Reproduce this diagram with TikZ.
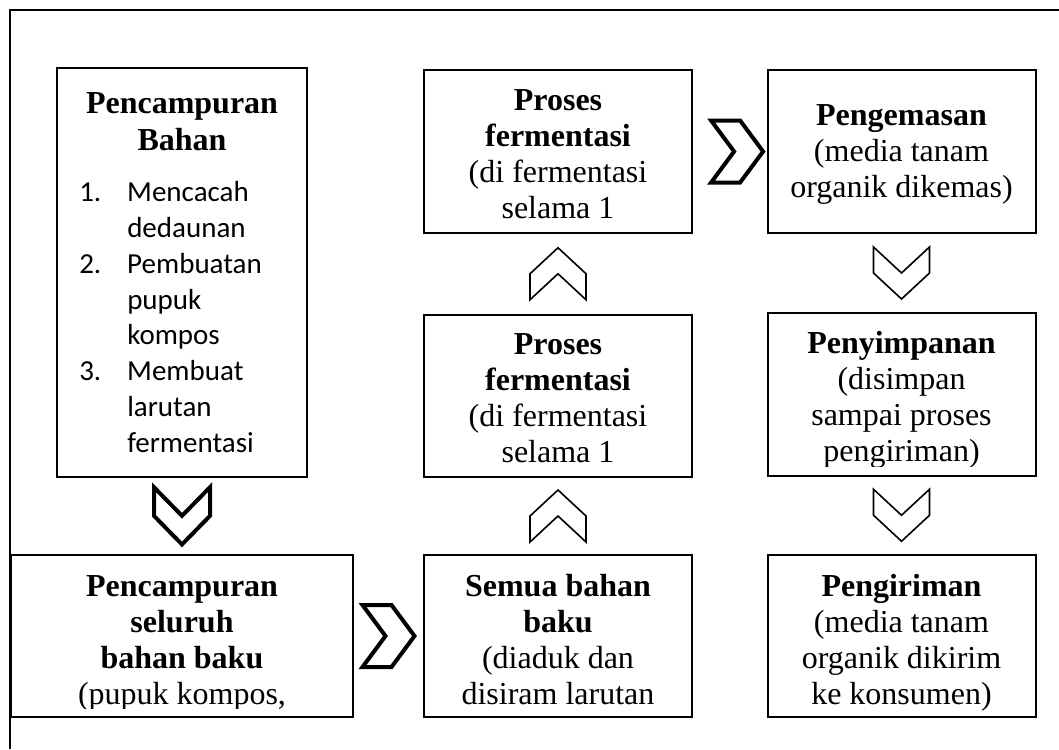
\documentclass[tikz,border=0pt]{standalone}
\usepackage{fontspec}
\setmainfont{Liberation Serif}
\newfontfamily\listfont{Carlito}
\usetikzlibrary{calc}
\tikzset{
    pics/chevdown/.style={code={\draw[pic actions] (-28,-26) -- (0,0) -- (28,-26) -- (28,0) -- (0,26) -- (-28,0) -- cycle;}},
    pics/chevup/.style={code={\draw[pic actions] (-28,26) -- (0,0) -- (28,26) -- (28,0) -- (0,-26) -- (-28,0) -- cycle;}},
    pics/chevright/.style={code={\draw[pic actions] (-26,-31) -- (3,-31) -- (26,0) -- (3,31) -- (-26,31) -- (-3,0) -- cycle;}},
}

\begin{document}
\begin{tikzpicture}[x=0.75pt, y=-0.75pt,
    box/.style={draw, line width=1.5pt, minimum width=201pt, minimum height=122pt, inner sep=0pt},
    txt/.style={anchor=base, align=center, inner sep=0pt, font=\fontsize{24}{27}\selectfont},
    chevthick/.style={draw, fill=white, line width=3pt},
    chevthin/.style={draw, fill=white, line width=1.2pt}]
    \useasboundingbox (0,0) rectangle (1059,749);
    \draw[line width=1.8pt] (10,749) -- (10,10) -- (1059,10);

    \node[box, minimum width=187.5pt, minimum height=306.75pt] (mix) at (182,272.5) {};
    \node[box, minimum width=256.5pt] (all) at (182,636) {};
    \node[box] (stir) at (558,636) {};
    \node[box] (ferm1) at (558,396) {};
    \node[box] (ferm2) at (558,151.5) {};
    \node[box] (pack) at (901.5,151.5) {};
    \node[box] (store) at (901.5,394.5) {};
    \node[box] (ship) at (901.5,636) {};

    \node[txt, font=\fontsize{24}{27.75}\selectfont] (mix-title) at (182,150) {\textbf{Pencampuran}\\\textbf{Bahan}};
    \node[anchor=base west, align=left, inner sep=0pt, font=\listfont\fontsize{21.75}{26.8}\selectfont] (mix-list) at (79,452)
        {\makebox[36pt][l]{1.}Mencacah\\\hspace*{36pt}dedaunan\\\makebox[36pt][l]{2.}Pembuatan\\\hspace*{36pt}pupuk\\\hspace*{36pt}kompos\\\makebox[36pt][l]{3.}Membuat\\\hspace*{36pt}larutan\\\hspace*{36pt}fermentasi};
    \begin{scope}
        \clip (all.north west) rectangle ([yshift=7.5pt]all.south east);
        \node[txt] (all-text) at (182,704) {\textbf{Pencampuran}\\\textbf{seluruh}\\\textbf{bahan baku}\\(pupuk kompos,};
    \end{scope}
    \node[txt] (stir-text) at (558,704) {\textbf{Semua bahan}\\\textbf{baku}\\(diaduk dan\\disiram larutan};
    \node[txt] (ferm1-text) at (558,462) {\textbf{Proses}\\\textbf{fermentasi}\\(di fermentasi\\selama 1};
    \node[txt] (ferm2-text) at (558,218) {\textbf{Proses}\\\textbf{fermentasi}\\(di fermentasi\\selama 1};
    \node[txt] (pack-text) at (901.5,197) {\textbf{Pengemasan}\\(media tanam\\organik dikemas)};
    \begin{scope}
        \clip (store.north west) rectangle ([yshift=8pt]store.south east);
        \node[txt] (store-text) at (901.5,461) {\textbf{Penyimpanan}\\(disimpan\\sampai proses\\pengiriman)};
    \end{scope}
    \node[txt] (ship-text) at (901.5,704) {\textbf{Pengiriman}\\(media tanam\\organik dikirim\\ke konsumen)};

    \pic[chevthick, yscale=1.1] at ($(mix.south)!0.5!(all.north)$) {chevdown};
    \pic[chevthick] at ($(all.east)!0.5!(stir.west)$) {chevright};
    \pic[chevthin] at ($(stir.north)!0.5!(ferm1.south)$) {chevup};
    \pic[chevthin] at ($(ferm1.north)!0.5!(ferm2.south)$) {chevup};
    \pic[chevthick] at ($(ferm2.east)!0.6!(pack.west)$) {chevright};
    \pic[chevthin] at ($(pack.south)!0.5!(store.north)$) {chevdown};
    \pic[chevthin] at ($(store.south)!0.5!(ship.north)$) {chevdown};
\end{tikzpicture}
\end{document}
